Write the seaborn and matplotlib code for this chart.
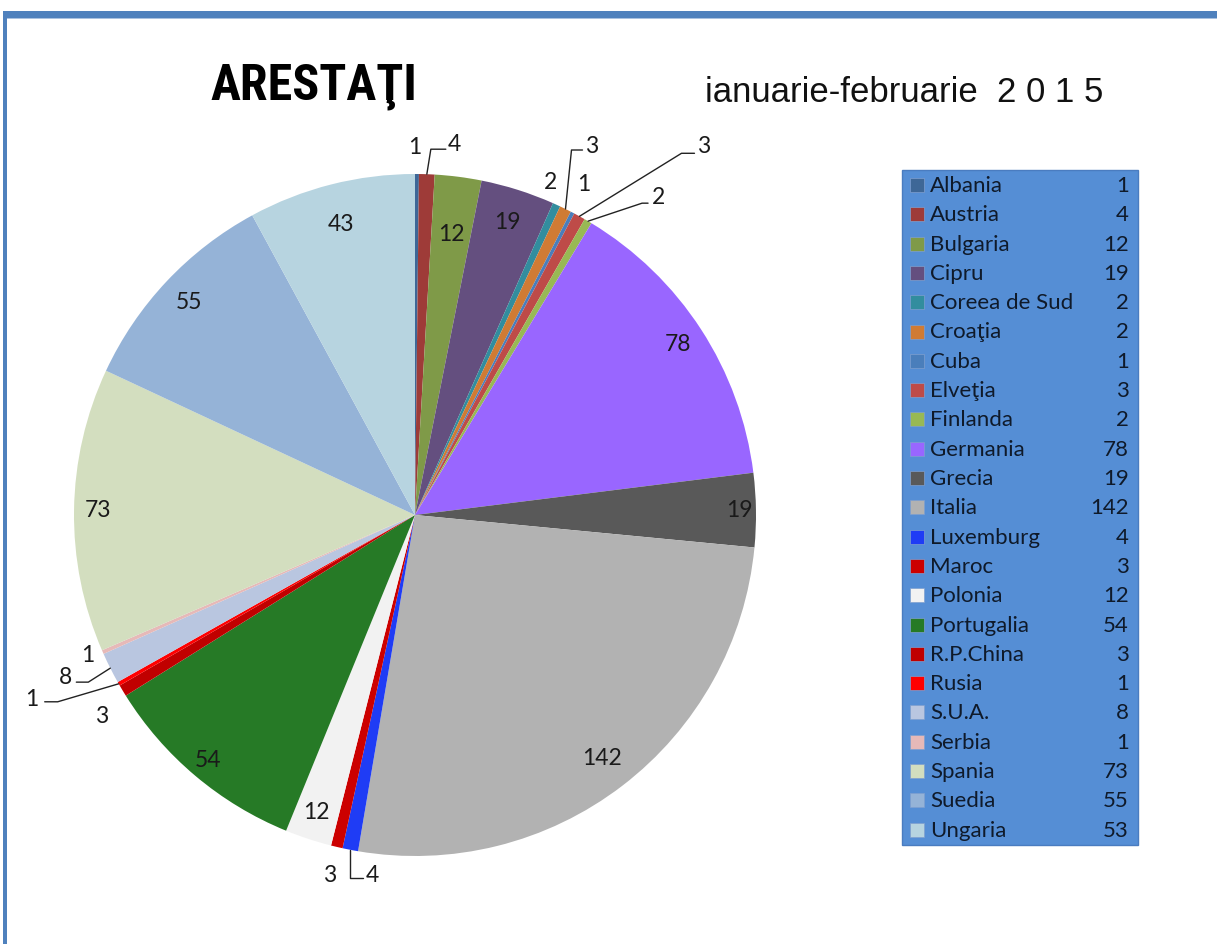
import matplotlib
matplotlib.use("Agg")
import matplotlib.pyplot as plt
import matplotlib.patches as mpatches
from matplotlib import font_manager
import numpy as np
import seaborn as sns

# ---------------- data ----------------
countries = ["Albania", "Austria", "Bulgaria", "Cipru", "Coreea de Sud", "Croaţia",
             "Cuba", "Elveţia", "Finlanda", "Germania", "Grecia", "Italia",
             "Luxemburg", "Maroc", "Polonia", "Portugalia", "R.P.China", "Rusia",
             "S.U.A.", "Serbia", "Spania", "Suedia", "Ungaria"]
pie_values = [1, 4, 12, 19, 2, 3, 1, 3, 2, 78, 19, 142, 4, 3, 12, 54, 3, 1, 8, 1, 73, 55, 43]
legend_values = [1, 4, 12, 19, 2, 2, 1, 3, 2, 78, 19, 142, 4, 3, 12, 54, 3, 1, 8, 1, 73, 55, 53]
colors = ["#3E6797", "#9E3B38", "#7F9A48", "#644F7F", "#328D9E", "#D07B34",
          "#4A7EBB", "#BE4B48", "#98B954", "#9966FF", "#595959", "#B2B2B2",
          "#1F3CF5", "#CC0000", "#F2F2F2", "#267A26", "#C00000", "#FF0000",
          "#B9C6E0", "#E6B9B8", "#D3DEBF", "#95B3D7", "#B7D4E0"]
title = "ARESTAŢI"
subtitle = "ianuarie-februarie  2 0 1 5"

sns.set_theme(style="white")
avail = {f.name for f in font_manager.fontManager.ttflist}
label_font = "Lato" if "Lato" in avail else "DejaVu Sans"
title_font = next((f for f in ["Liberation Sans Narrow", "Roboto Condensed", "Roboto", "Liberation Sans"]
                   if f in avail), "DejaVu Sans")
plt.rcParams["font.family"] = [label_font, "DejaVu Sans"]

W, H = 1217, 944
fig = plt.figure(figsize=(W / 100, H / 100), dpi=100)
fig.patch.set_facecolor("white")

def fx(x):
    return x / W

def fy(y):
    return 1 - y / H

# frame border (top & left)
fig.patches.append(mpatches.Rectangle((fx(3), fy(18)), fx(1250), 7 / H, transform=fig.transFigure,
                                      facecolor="#4F81BD", edgecolor="none", zorder=5))
fig.patches.append(mpatches.Rectangle((fx(3), fy(960)), 4 / W, 942 / H, transform=fig.transFigure,
                                      facecolor="#4F81BD", edgecolor="none", zorder=5))
fig.patches.append(mpatches.Rectangle((fx(7), fy(19)), fx(1250), 1 / H, transform=fig.transFigure,
                                      facecolor="#A9C1E0", edgecolor="none", zorder=5))

# ---------------- pie ----------------
cx, cy, R = 415, 515, 341
ax = fig.add_axes([fx(cx - R), fy(cy + R), 2 * R / W, 2 * R / H])
wedges, _ = ax.pie(pie_values, colors=colors, startangle=90, counterclock=False,
                   wedgeprops=dict(linewidth=0))
ax.set_xlim(-1, 1)
ax.set_ylim(-1, 1)
ax.set_aspect("equal")
ax.axis("off")

px = 1 / R  # one pixel in data units

# label placement: ("in", radius) or ("out", dx, dy, leader) where offsets in pixels
placement = {
    "Albania": ("out", -2, -27, None),
    "Austria": ("out", 28, -30, [(4, -25), (19, -25)]),
    "Bulgaria": ("in", 0.83),
    "Cipru": ("in", 0.9),
    "Coreea de Sud": ("out", -6, -22, None),
    "Croaţia": ("out", 26, -63, [(6, -59), (17, -59)]),
    "Cuba": ("out", 11, -28, None),
    "Elveţia": ("out", 124, -70, [(102, -63), (115, -63)]),
    "Finlanda": ("out", 70, -24, [(54, -18), (60, -18)]),
    "Germania": ("in", 0.92),
    "Grecia": ("in", 0.95),
    "Italia": ("in", 0.9),
    "Luxemburg": ("out", 22, 26, [(0, 28), (13, 28)]),
    "Maroc": ("out", -7, 29, None),
    "Polonia": ("in", 0.92),
    "Portugalia": ("in", 0.94),
    "R.P.China": ("out", -21, 26, None),
    "Rusia": ("out", -87, 16, [(-61, 18), (-74, 18)]),
    "S.U.A.": ("out", -45, 9, [(-22, 14), (-34, 14)]),
    "Serbia": ("out", -15, 3, None),
    "Spania": ("in", 0.93),
    "Suedia": ("in", 0.91),
    "Ungaria": ("in", 0.88),
}

fs_lab = 16.5
for w, name, val in zip(wedges, countries, pie_values):
    mid = np.deg2rad((w.theta1 + w.theta2) / 2)
    spec = placement[name]
    if spec[0] == "in":
        r = spec[1]
        ax.text(r * np.cos(mid), r * np.sin(mid), str(val), ha="center", va="center",
                fontsize=fs_lab, color="#1a1a1a")
    else:
        ex, ey = np.cos(mid), np.sin(mid)
        tx, ty = ex + spec[1] * px, ey - spec[2] * px
        ax.text(tx, ty, str(val), ha="center", va="center", fontsize=fs_lab, color="#1a1a1a")
        if spec[3]:
            xs = [ex] + [ex + p[0] * px for p in spec[3]]
            ys = [ey] + [ey - p[1] * px for p in spec[3]]
            ax.plot(xs, ys, color="#222222", lw=1.0, clip_on=False)

# ---------------- titles ----------------
title_size = 36 if title_font in ("Liberation Sans Narrow", "Roboto Condensed") else 32
fig.text(fx(210), fy(100), title, fontsize=title_size, fontweight="bold",
         family=[title_font, "DejaVu Sans"], ha="left", va="baseline", color="black")
fig.text(fx(705), fy(102), subtitle, fontsize=25,
         family=["Liberation Sans", "DejaVu Sans"], ha="left", va="baseline", color="#111111")

# ---------------- legend ----------------
lx0, ly0, lx1, ly1 = 902, 170, 1138, 845
fig.patches.append(mpatches.Rectangle((fx(lx0), fy(ly1)), (lx1 - lx0) / W, (ly1 - ly0) / H,
                                      transform=fig.transFigure, facecolor="#558ED5",
                                      edgecolor="#4A7CC0", lw=1, zorder=1))
row0, dy = 185, 29.3
for i, (name, val, c) in enumerate(zip(countries, legend_values, colors)):
    y = row0 + i * dy
    fig.patches.append(mpatches.Rectangle((fx(910), fy(y + 7)), 14 / W, 14 / H,
                                          transform=fig.transFigure, facecolor=c,
                                          edgecolor="#7F9FCF", lw=0.5, zorder=2))
    fig.text(fx(930), fy(y + 1), name, fontsize=16, ha="left", va="center", color="#0F1A2A", zorder=3)
    fig.text(fx(1129), fy(y + 1), str(val), fontsize=16, ha="right", va="center", color="#0F1A2A", zorder=3)

fig.savefig("out.png", dpi=100, facecolor="white")
